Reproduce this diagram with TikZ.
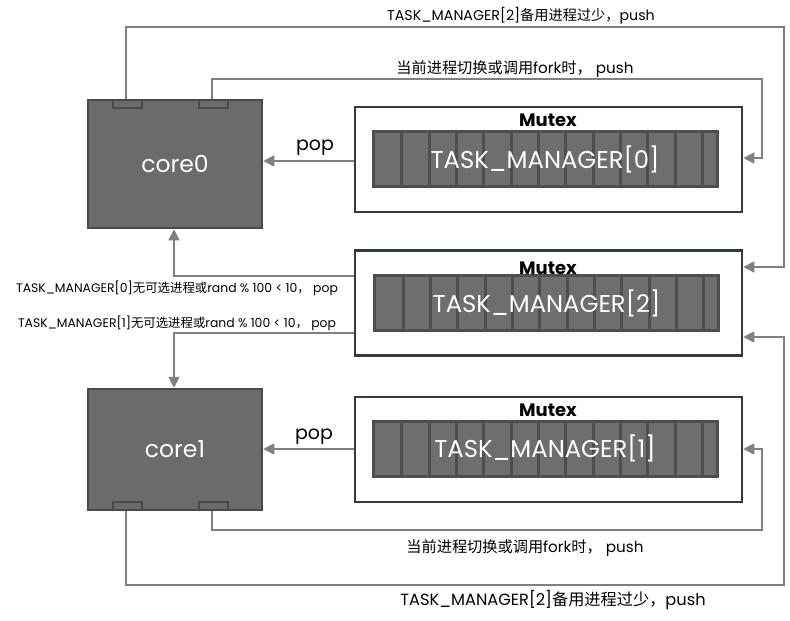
\documentclass[tikz,border=0pt]{standalone}
\usepackage{fontspec}
\setmainfont{Poppins}
\newfontfamily\cjk{Noto Sans CJK SC}
\usetikzlibrary{arrows.meta}
\definecolor{corefill}{HTML}{6B6B6B}
\definecolor{coreline}{HTML}{4A4A4A}
\definecolor{boxline}{HTML}{323A44}
\definecolor{conn}{HTML}{808080}
\definecolor{barfill}{HTML}{6E6E6E}
\definecolor{barline}{HTML}{4E4E4E}
\newcommand{\zh}[1]{{\cjk #1}}
\tikzset{
  corebox/.style={draw=coreline, fill=corefill, line width=2.5pt, minimum width=174pt, inner sep=0pt, text=white, font=\fontsize{23.5}{25}\selectfont},
  tabbox/.style={draw=coreline, fill=corefill, line width=2pt, minimum width=29pt, minimum height=8pt, inner sep=0pt},
  tmbox/.style={draw=boxline, fill=white, line width=2.5pt, minimum width=387pt, minimum height=105pt, inner sep=0pt},
  barbox/.style={draw=barline, fill=barfill, line width=3pt, minimum width=344pt, minimum height=55pt, inner sep=0pt},
  bartext/.style={text=white, font=\fontsize{24.3}{26}\selectfont, inner sep=0pt},
  mutex/.style={font=\bfseries\fontsize{18}{20}\selectfont, inner sep=0pt},
  conn/.style={draw=conn, line width=1.8pt},
  connarrow/.style={conn, -{Triangle[length=11pt,width=11pt]}},
  lbl/.style={inner sep=0pt, text=black},
  poplbl/.style={lbl, font=\fontsize{19}{21}\selectfont},
}
\begin{document}
\begin{tikzpicture}[x=1pt,y=-1pt]
\useasboundingbox (0,0) rectangle (790,621);
% cores
\node[corebox, minimum height=128pt] (core0) at (175,164) {core0};
\node[corebox, minimum height=121pt] (core1) at (175,449.5) {core1};
\node[tabbox] (t0a) at (127.5,104) {};
\node[tabbox] (t0b) at (213,104) {};
\node[tabbox] (t1a) at (127.5,506) {};
\node[tabbox] (t1b) at (213,506) {};
% task managers
\newcommand{\mybar}[3]{%
  \node[barbox] (#1) at (#2,#3) {};
  \foreach \k in {0,...,11} {\draw[barline, line width=3pt] ({#2-172+28.7+\k*27.33},{#3-27.5}) -- ++(0,55);}
}
\node[tmbox] (tm0) at (548.5,159.5) {};
\mybar{bar0}{545}{159}
\node[bartext] at (bar0) {TASK\_MANAGER[0]};
\node[mutex] (mx0) at (548,120) {Mutex};

\node[tmbox] (tm2) at (548.5,303) {};
\mybar{bar2}{546.5}{303}
\node[bartext] at (bar2) {TASK\_MANAGER[2]};
\node[mutex] (mx2) at (548,268) {Mutex};

\node[tmbox] (tm1) at (548.5,449.5) {};
\mybar{bar1}{545}{448.5}
\node[bartext] at (bar1) {TASK\_MANAGER[1]};
\node[mutex] (mx1) at (548,410) {Mutex};

% pop arrows
\draw[connarrow] (tm0.west |- 0,161) -- (core0.east |- 0,161);
\node[poplbl] at (315,148) {pop};
\draw[connarrow] (tm1.west |- 0,449) -- (core1.east |- 0,449);
\node[poplbl] at (314,437) {pop};

% top feedback lines
\coordinate (a1) at (126,27);
\coordinate (a2) at (784,27);
\draw[connarrow] (t0a.north -| a1) -- (a1) -- (a2) -- (a2 |- 0,267) -- (tm2.east |- 0,267);
\node[lbl, font=\fontsize{14.2}{16}\selectfont] at (521,16) {TASK\_MANAGER[2]\zh{备用进程过少，}push};
\coordinate (b1) at (212,79);
\coordinate (b2) at (762,79);
\draw[connarrow] (t0b.north -| b1) -- (b1) -- (b2) -- (b2 |- 0,158) -- (tm0.east |- 0,158);
\node[lbl, font=\fontsize{15.2}{17}\selectfont] at (515,69) {\zh{当前进程切换或调用}fork\zh{时，} push};

% bottom feedback lines
\coordinate (c1) at (212,530);
\coordinate (c2) at (762,530);
\draw[connarrow] (t1b.south -| c1) -- (c1) -- (c2) -- (c2 |- 0,449) -- (tm1.east |- 0,449);
\node[lbl, font=\fontsize{15.2}{17}\selectfont] at (525,548) {\zh{当前进程切换或调用}fork\zh{时，} push};
\coordinate (d1) at (126,585);
\coordinate (d2) at (784,585);
\draw[connarrow] (t1a.south -| d1) -- (d1) -- (d2) -- (d2 |- 0,337) -- (tm2.east |- 0,337);
\node[lbl, font=\fontsize{16.2}{18}\selectfont] at (553,600) {TASK\_MANAGER[2]\zh{备用进程过少，}push};

% left pop lines from TM2
\coordinate (e1) at (174,276);
\draw[connarrow] (tm2.west |- e1) -- (e1) -- (core0.south -| e1);
\node[lbl, font=\fontsize{12.4}{14}\selectfont] at (177,288) {TASK\_MANAGER[0]\zh{无可选进程或}rand \% 100 < 10\zh{，} pop};
\coordinate (f1) at (174,333);
\draw[connarrow] (tm2.west |- f1) -- (f1) -- (core1.north -| f1);
\node[lbl, font=\fontsize{12.4}{14}\selectfont] at (177,323) {TASK\_MANAGER[1]\zh{无可选进程或}rand \% 100 < 10\zh{，} pop};
\end{tikzpicture}
\end{document}
